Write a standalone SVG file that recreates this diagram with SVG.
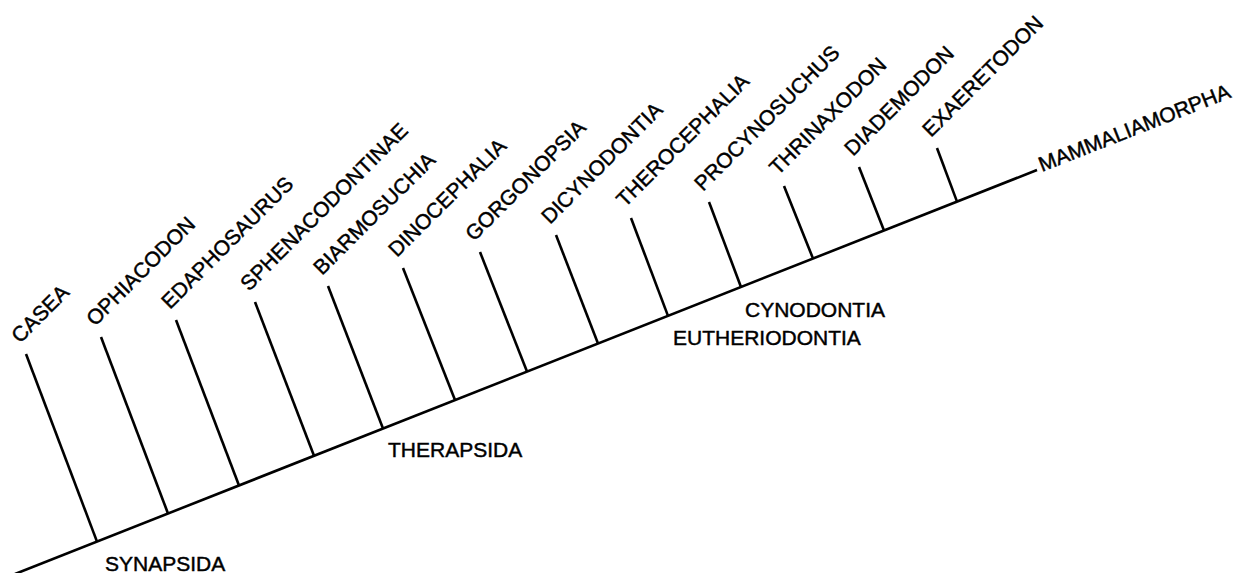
<svg xmlns="http://www.w3.org/2000/svg" width="1233" height="573" viewBox="0 0 1233 573">
<style>
  text { font-family: "Liberation Sans", Arial, sans-serif; font-size: 21px; fill: #000; stroke: #000; stroke-width: 0.45; }
  .ln { stroke: #000; stroke-width: 2.6; fill: none; stroke-linecap: butt; }
</style>
<rect width="1233" height="573" fill="#fff"/>
<g id="connectors">
  <line class="ln" x1="15" y1="574" x2="1037" y2="170"/>
  <line class="ln" x1="26" y1="354" x2="97" y2="541.6"/>
  <line class="ln" x1="101" y1="337" x2="168" y2="513.5"/>
  <line class="ln" x1="176" y1="320" x2="239" y2="485.5"/>
  <line class="ln" x1="255" y1="302" x2="314" y2="455.8"/>
  <line class="ln" x1="328" y1="286" x2="383" y2="428.5"/>
  <line class="ln" x1="403" y1="268" x2="455" y2="400.1"/>
  <line class="ln" x1="480" y1="252" x2="527" y2="371.6"/>
  <line class="ln" x1="556" y1="235" x2="598" y2="343.5"/>
  <line class="ln" x1="631" y1="218" x2="668" y2="315.9"/>
  <line class="ln" x1="709" y1="202" x2="741" y2="287"/>
  <line class="ln" x1="784" y1="186" x2="813" y2="258.5"/>
  <line class="ln" x1="859" y1="167" x2="884" y2="230.5"/>
  <line class="ln" x1="937" y1="148" x2="957" y2="201.6"/>
</g>
<g id="casea"><text transform="translate(20,344) rotate(-45)">CASEA</text></g>
<g id="ophiacodon"><text transform="translate(95,327) rotate(-45)">OPHIACODON</text></g>
<g id="edaphosaurus"><text transform="translate(170,310) rotate(-45)">EDAPHOSAURUS</text></g>
<g id="sphenacodontinae"><text transform="translate(249,292) rotate(-45)">SPHENACODONTINAE</text></g>
<g id="biarmosuchia"><text transform="translate(322,276) rotate(-45)">BIARMOSUCHIA</text></g>
<g id="dinocephalia"><text transform="translate(397,258) rotate(-45)">DINOCEPHALIA</text></g>
<g id="gorgonopsia"><text transform="translate(474,242) rotate(-45)">GORGONOPSIA</text></g>
<g id="dicynodontia"><text transform="translate(550,225) rotate(-45)">DICYNODONTIA</text></g>
<g id="therocephalia"><text transform="translate(625,208) rotate(-45)">THEROCEPHALIA</text></g>
<g id="procynosuchus"><text transform="translate(703,192) rotate(-45)">PROCYNOSUCHUS</text></g>
<g id="thrinaxodon"><text transform="translate(778,176) rotate(-45)">THRINAXODON</text></g>
<g id="diademodon"><text transform="translate(853,157) rotate(-45)">DIADEMODON</text></g>
<g id="exaeretodon"><text transform="translate(931,138) rotate(-45)">EXAERETODON</text></g>
<g id="mammaliamorpha"><text transform="translate(1042,172) rotate(-21.5)">MAMMALIAMORPHA</text></g>
<g id="synapsida"><text x="105" y="571">SYNAPSIDA</text></g>
<g id="therapsida"><text x="388" y="457">THERAPSIDA</text></g>
<g id="cynodontia"><text x="745" y="317">CYNODONTIA</text></g>
<g id="eutheriodontia"><text x="673" y="345">EUTHERIODONTIA</text></g>
</svg>
